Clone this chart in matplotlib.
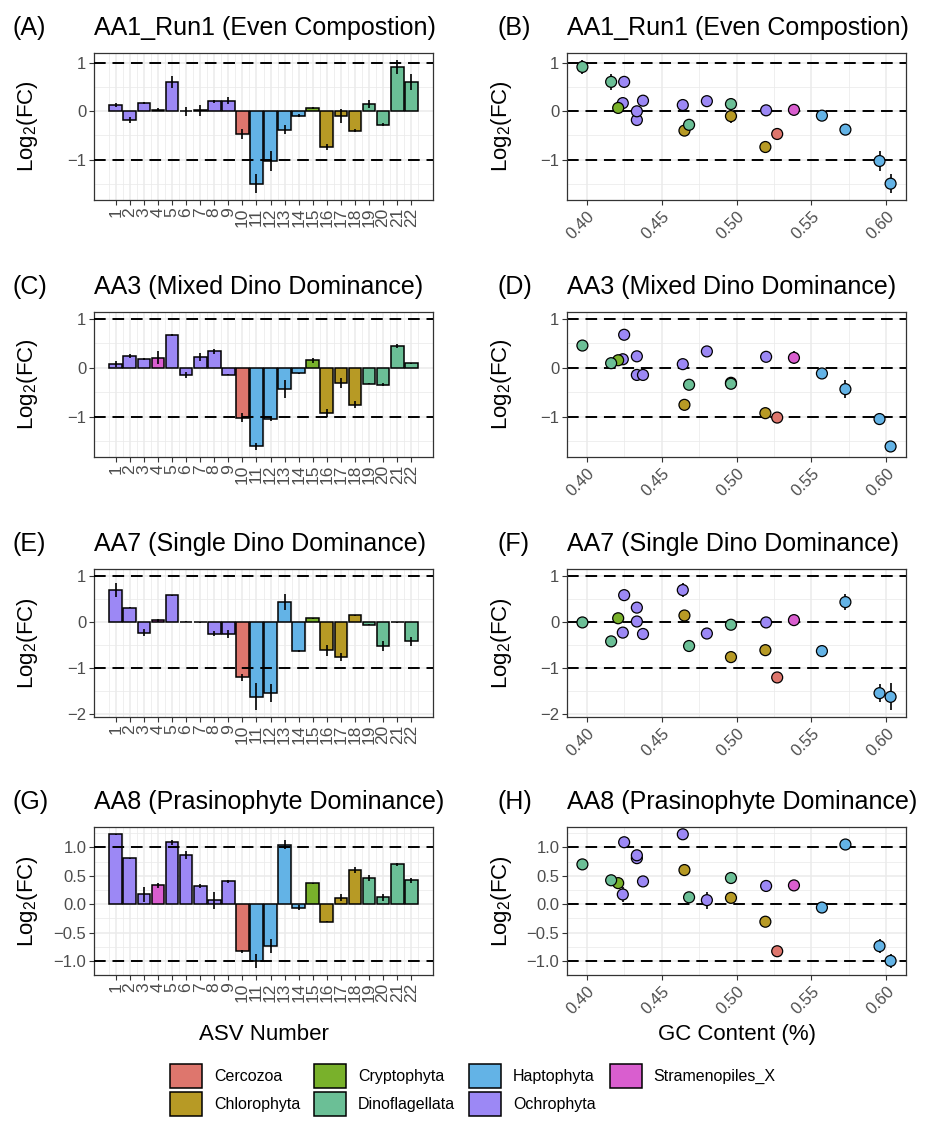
import matplotlib
matplotlib.use('Agg')
import matplotlib.pyplot as plt
from matplotlib.patches import Patch
from matplotlib.ticker import MultipleLocator, FuncFormatter, FormatStrFormatter
import numpy as np

plt.rcParams['font.family'] = ['Liberation Sans', 'DejaVu Sans']
plt.rcParams['mathtext.default'] = 'regular'

# ---------------- data ----------------
asv = list(range(1, 23))
phylum = ['Ochrophyta', 'Ochrophyta', 'Ochrophyta', 'Stramenopiles_X', 'Ochrophyta',
          'Ochrophyta', 'Ochrophyta', 'Ochrophyta', 'Ochrophyta', 'Cercozoa',
          'Haptophyta', 'Haptophyta', 'Haptophyta', 'Haptophyta', 'Cryptophyta',
          'Chlorophyta', 'Chlorophyta', 'Chlorophyta', 'Dinoflagellata', 'Dinoflagellata',
          'Dinoflagellata', 'Dinoflagellata']
gc_content = [0.4640, 0.4333, 0.4239, 0.5383, 0.4248, 0.4333, 0.5197, 0.4801, 0.4374, 0.5271,
              0.6029, 0.5955, 0.5727, 0.5570, 0.4208, 0.5192, 0.4962, 0.4651, 0.4962, 0.4682,
              0.3969, 0.4161]

aa1 = [0.13, -0.18, 0.17, 0.03, 0.61, 0.00, 0.02, 0.21, 0.22, -0.47,
       -1.50, -1.03, -0.38, -0.09, 0.07, -0.74, -0.10, -0.40, 0.15, -0.28, 0.92, 0.61]
aa1_err = [0.05, 0.07, 0.02, 0.03, 0.12, 0.09, 0.11, 0.03, 0.07, 0.11,
           0.20, 0.21, 0.10, 0.03, 0.02, 0.06, 0.14, 0.03, 0.08, 0.03, 0.15, 0.16]

aa3 = [0.07, 0.23, 0.17, 0.20, 0.67, -0.15, 0.22, 0.33, -0.15, -1.02,
       -1.61, -1.05, -0.44, -0.12, 0.15, -0.93, -0.31, -0.76, -0.33, -0.35, 0.45, 0.09]
aa3_err = [0.06, 0.04, 0.02, 0.13, 0.02, 0.07, 0.08, 0.05, 0.01, 0.10,
           0.08, 0.05, 0.18, 0.01, 0.05, 0.08, 0.10, 0.07, 0.01, 0.03, 0.04, 0.01]

aa7 = [0.69, 0.31, -0.23, 0.04, 0.58, 0.01, -0.01, -0.25, -0.26, -1.20,
       -1.62, -1.54, 0.43, -0.63, 0.08, -0.61, -0.76, 0.14, -0.06, -0.52, -0.01, -0.42]
aa7_err = [0.16, 0.01, 0.07, 0.03, 0.01, 0.01, 0.01, 0.06, 0.08, 0.07,
           0.29, 0.19, 0.18, 0.03, 0.01, 0.12, 0.08, 0.01, 0.01, 0.10, 0.01, 0.10]

aa8 = [1.23, 0.81, 0.17, 0.33, 1.09, 0.86, 0.32, 0.07, 0.40, -0.83,
       -1.00, -0.74, 1.05, -0.06, 0.37, -0.31, 0.11, 0.60, 0.46, 0.12, 0.70, 0.42]
aa8_err = [0.01, 0.01, 0.13, 0.05, 0.04, 0.07, 0.03, 0.15, 0.02, 0.03,
           0.13, 0.12, 0.08, 0.04, 0.01, 0.01, 0.06, 0.06, 0.05, 0.06, 0.03, 0.04]

titles = ['AA1_Run1 (Even Compostion)', 'AA3 (Mixed Dino Dominance)',
          'AA7 (Single Dino Dominance)', 'AA8 (Prasinophyte Dominance)']
tags_left = ['(A)', '(C)', '(E)', '(G)']
tags_right = ['(B)', '(D)', '(F)', '(H)']

legend_names = ['Cercozoa', 'Chlorophyta', 'Cryptophyta', 'Dinoflagellata',
                'Haptophyta', 'Ochrophyta', 'Stramenopiles_X']
legend_colors = ['#DE766D', '#B79A25', '#79B12B', '#6BBF96', '#63B3E6', '#9C88F5', '#D95ECF']
palette = dict(zip(legend_names, legend_colors))

values = [aa1, aa3, aa7, aa8]
errors = [aa1_err, aa3_err, aa7_err, aa8_err]

# ---------------- layout ----------------
W, H = 926, 1127
fig = plt.figure(figsize=(W / 100, H / 100), dpi=100)
fig.patch.set_facecolor('white')


def ax_at(x0, y0, x1, y1):
    return fig.add_axes([x0 / W, 1 - y1 / H, (x1 - x0) / W, (y1 - y0) / H])


def style(ax):
    ax.set_facecolor('white')
    for s in ax.spines.values():
        s.set_color('#333333')
        s.set_linewidth(0.9)
    ax.tick_params(which='major', length=3.5, width=0.8, color='#333333',
                   labelcolor='#4D4D4D', labelsize=12, pad=2)
    ax.tick_params(which='minor', length=0)
    ax.grid(which='major', color='#EBEBEB', lw=1.1)
    ax.grid(which='minor', color='#EBEBEB', lw=0.55)
    ax.set_axisbelow(True)


def yfmt(decimals):
    def f(val, pos):
        s = f'{abs(val):.{decimals}f}'
        return ('\u2212' + s) if val < -1e-9 else s
    return FuncFormatter(f)


rows = [(53, 200), (312, 457), (569, 717), (827, 975)]
LX0, LX1 = 94, 433
RX0, RX1 = 567, 906
dash = (0, (6, 3.5))
colors = [palette[p] for p in phylum]
x = np.array(asv, dtype=float)
gc = np.array(gc_content)

for i, (top, bot) in enumerate(rows):
    v = np.array(values[i])
    e = np.array(errors[i])
    lo = min((v - e).min(), -1.0)
    hi = max((v + e).max(), 1.0)
    r = hi - lo
    ylim = (lo - 0.05 * r, hi + 0.05 * r)
    step = 0.5 if i == 3 else 1.0
    dec = 1 if i == 3 else 0

    # ---- bar panel ----
    ax = ax_at(LX0, top, LX1, bot)
    style(ax)
    ax.bar(x, v, width=0.9, color=colors, edgecolor='black', linewidth=1.1, zorder=2)
    ax.vlines(x, v - e, v + e, color='black', lw=1.2, zorder=3)
    for yv in (-1, 1):
        ax.axhline(yv, color='black', lw=1.4, ls=dash, zorder=4)
    xr = (x.max() + 0.45) - (x.min() - 0.45)
    ax.set_xlim(x.min() - 0.45 - 0.05 * xr, x.max() + 0.45 + 0.05 * xr)
    ax.set_xticks(x)
    ax.set_xticklabels([str(a) for a in asv], rotation=90, fontsize=12.5)
    ax.set_xticks(np.arange(0.5, 23.0, 1.0), minor=True)
    ax.yaxis.set_major_locator(MultipleLocator(step))
    ax.yaxis.set_minor_locator(MultipleLocator(step / 2))
    ax.yaxis.set_major_formatter(yfmt(dec))
    ax.set_ylim(*ylim)

    # ---- scatter panel ----
    ax2 = ax_at(RX0, top, RX1, bot)
    style(ax2)
    for yv in (-1, 0, 1):
        ax2.axhline(yv, color='black', lw=1.4, ls=dash, zorder=1.5)
    ax2.vlines(gc, v - e, v + e, color='black', lw=1.2, zorder=2)
    ax2.scatter(gc, v, s=62, c=colors, edgecolors='black', linewidths=0.9, zorder=3)
    gr = gc.max() - gc.min()
    ax2.xaxis.set_major_locator(MultipleLocator(0.05))
    ax2.xaxis.set_minor_locator(MultipleLocator(0.025))
    ax2.xaxis.set_major_formatter(FormatStrFormatter('%.2f'))
    ax2.tick_params(axis='x', pad=3)
    ax2.yaxis.set_major_locator(MultipleLocator(step))
    ax2.yaxis.set_minor_locator(MultipleLocator(step / 2))
    ax2.yaxis.set_major_formatter(yfmt(dec))
    ax2.set_ylim(*ylim)
    ax2.set_xlim(gc.min() - 0.05 * gr, gc.max() + 0.05 * gr)
    for lab in ax2.get_xticklabels():
        lab.set_rotation(45)
        lab.set_ha('right')
        lab.set_va('top')
        lab.set_rotation_mode('anchor')

    # ---- texts ----
    base = top - 18
    fig.text(LX0 / W, 1 - base / H, titles[i], fontsize=18, ha='left', va='baseline')
    fig.text(RX0 / W, 1 - base / H, titles[i], fontsize=18, ha='left', va='baseline')
    fig.text(12.5 / W, 1 - base / H, tags_left[i], fontsize=18, ha='left', va='baseline')
    fig.text(498 / W, 1 - base / H, tags_right[i], fontsize=18, ha='left', va='baseline')
    mid = (top + bot) / 2
    fig.text(28 / W, 1 - mid / H, 'Log$_2$(FC)', fontsize=16, rotation=90,
             ha='center', va='center')
    fig.text(501 / W, 1 - mid / H, 'Log$_2$(FC)', fontsize=16, rotation=90,
             ha='center', va='center')

fig.text((LX0 + LX1) / 2 / W, 1 - 1040 / H, 'ASV Number', fontsize=16,
         ha='center', va='baseline')
fig.text((RX0 + RX1) / 2 / W, 1 - 1040 / H, 'GC Content (%)', fontsize=16,
         ha='center', va='baseline')

handles = [Patch(facecolor=palette[n], edgecolor='black', linewidth=1.1) for n in legend_names]
fig.legend(handles, legend_names, loc='upper left', bbox_to_anchor=(170 / W, 1 - 1064 / H),
           ncol=4, frameon=False, fontsize=11.5, handlelength=2.0, handleheight=1.94,
           handletextpad=0.75, columnspacing=0.875, labelspacing=0.25,
           borderpad=0, borderaxespad=0)

fig.savefig('out.png', dpi=100, facecolor='white')
